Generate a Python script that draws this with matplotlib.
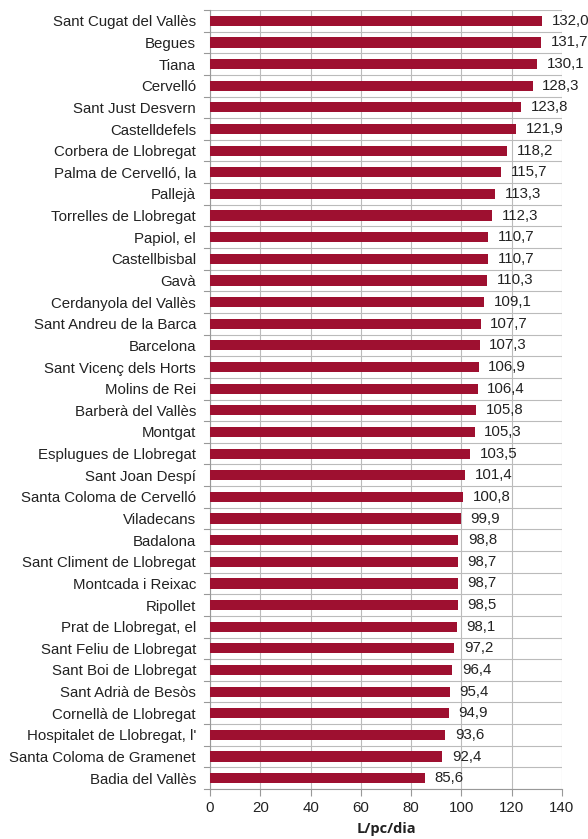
import matplotlib.pyplot as plt
import numpy as np

municipis = [
    "Sant Cugat del Vallès", "Begues", "Tiana", "Cervelló", "Sant Just Desvern",
    "Castelldefels", "Corbera de Llobregat", "Palma de Cervelló, la", "Pallejà",
    "Torrelles de Llobregat", "Papiol, el", "Castellbisbal", "Gavà",
    "Cerdanyola del Vallès", "Sant Andreu de la Barca", "Barcelona",
    "Sant Vicenç dels Horts", "Molins de Rei", "Barberà del Vallès", "Montgat",
    "Esplugues de Llobregat", "Sant Joan Despí", "Santa Coloma de Cervelló",
    "Viladecans", "Badalona", "Sant Climent de Llobregat", "Montcada i Reixac",
    "Ripollet", "Prat de Llobregat, el", "Sant Feliu de Llobregat",
    "Sant Boi de Llobregat", "Sant Adrià de Besòs", "Cornellà de Llobregat",
    "Hospitalet de Llobregat, l'", "Santa Coloma de Gramenet", "Badia del Vallès",
]
consum = [
    132.0, 131.7, 130.1, 128.3, 123.8, 121.9, 118.2, 115.7, 113.3, 112.3,
    110.7, 110.7, 110.3, 109.1, 107.7, 107.3, 106.9, 106.4, 105.8, 105.3,
    103.5, 101.4, 100.8, 99.9, 98.8, 98.7, 98.7, 98.5, 98.1, 97.2,
    96.4, 95.4, 94.9, 93.6, 92.4, 85.6,
]
xticks = [0, 20, 40, 60, 80, 100, 120, 140]

plt.rcParams['font.family'] = ['Liberation Sans', 'DejaVu Sans']

fig = plt.figure(figsize=(5.88, 8.39), dpi=100)
ax = fig.add_axes([210 / 588, 1 - 789 / 839, 352 / 588, 779 / 839])

y = np.arange(len(municipis))
ax.barh(y, consum, height=0.47, color="#9e1030", zorder=3)

for yi, v in zip(y, consum):
    ax.text(v + 3.8, yi, f"{v:.1f}".replace(".", ","), va="center", ha="left",
            fontsize=10.8, color="#222222", zorder=4)

ax.set_xlim(0, 140)
ax.set_ylim(len(municipis) - 0.5, -0.5)
ax.set_xticks(xticks)
ax.set_yticks(y)
ax.set_yticklabels(municipis, fontsize=10.8, color="#222222")
ax.tick_params(axis="x", labelsize=10.8, colors="#222222", length=5, color="#999999", pad=4)
ax.tick_params(axis="y", length=0, pad=10)

# gridlines: vertical at ticks, horizontal at category boundaries
ax.grid(axis="x", color="#bbbbbb", linewidth=0.8, zorder=0)
for b in np.arange(-0.5, len(municipis), 1.0):
    ax.axhline(b, color="#bbbbbb", linewidth=0.8, zorder=0)
    ax.plot([-0.018, 0], [b, b], transform=ax.get_yaxis_transform(),
            color="#999999", linewidth=0.8, clip_on=False)

for side in ["top", "right"]:
    ax.spines[side].set_visible(False)
ax.spines["left"].set_color("#999999")
ax.spines["bottom"].set_color("#999999")

ax.set_xlabel("L/pc/dia", fontsize=10.5, fontweight="bold", color="#222222",
              family=["Open Sans", "DejaVu Sans"], labelpad=5)

fig.savefig("out.png", dpi=100)
